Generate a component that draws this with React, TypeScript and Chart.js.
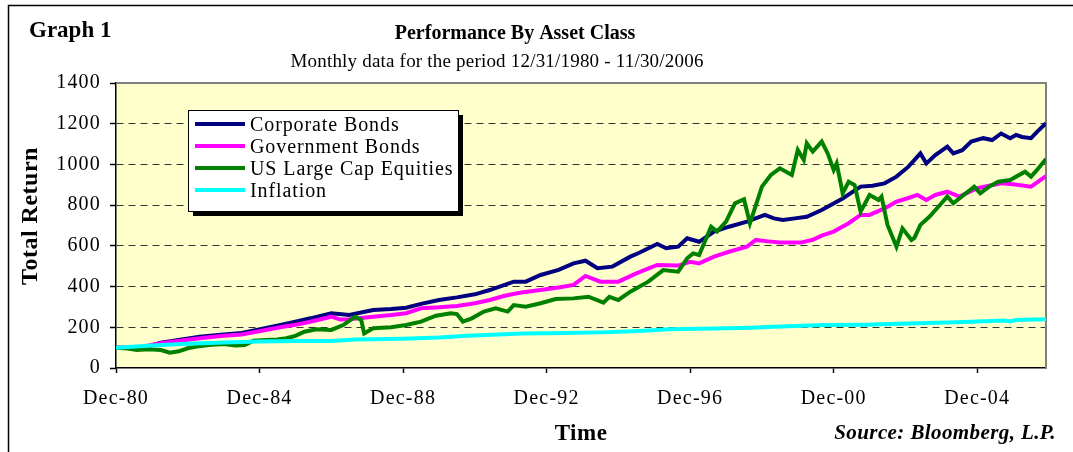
import React, { useEffect, useRef } from "react";
import { Chart, registerables } from "chart.js";

Chart.register(...registerables);

// x = months after Dec-1980, y = total return (Dec-80 = 100)
const tickLabels = ["Dec-80", "Dec-84", "Dec-88", "Dec-92", "Dec-96", "Dec-00", "Dec-04"];
const seriesNames = ["Corporate Bonds", "Government Bonds", "US Large Cap Equities", "Inflation"];
const seriesColors = ["#000080", "#FF00FF", "#008000", "#00FFFF"];

const corporateBonds: [number, number][] = [
  [0, 100], [6, 97], [10, 104], [15, 124], [22, 140], [28, 154], [36, 165], [42, 172], [47, 187],
  [55, 212], [60, 228], [65, 244], [72, 269], [78, 260], [86, 285], [92, 290], [97, 296], [102, 315],
  [108, 334], [114, 347], [120, 362], [125, 383], [133, 424], [137, 424], [142, 457], [148, 482],
  [153, 514], [157, 527], [161, 490], [166, 498], [172, 547], [175, 566], [181, 609], [184, 588],
  [188, 596], [191, 637], [195, 620], [200, 670], [205, 694], [211, 719], [217, 752], [220, 735],
  [223, 727], [227, 735], [231, 743], [236, 776], [243, 833], [249, 891], [253, 895], [257, 907],
  [261, 940], [265, 989], [269, 1054], [271, 1005], [274, 1046], [278, 1087], [280, 1054], [283, 1070],
  [286, 1112], [290, 1129], [293, 1120], [296, 1152], [299, 1129], [301, 1145], [303, 1135], [306, 1129],
  [308, 1160], [311, 1202],
];

const governmentBonds: [number, number][] = [
  [0, 100], [8, 102], [15, 122], [22, 135], [28, 146], [36, 158], [42, 165], [47, 178], [55, 200],
  [60, 212], [65, 227], [72, 252], [75, 238], [78, 240], [86, 252], [92, 260], [97, 269], [102, 293],
  [108, 298], [114, 305], [120, 318], [125, 334], [130, 355], [135, 370], [142, 383], [148, 395],
  [153, 408], [157, 452], [162, 424], [168, 424], [174, 465], [181, 506], [188, 503], [192, 522],
  [195, 514], [200, 547], [205, 571], [211, 596], [214, 629], [218, 622], [222, 616], [229, 616],
  [233, 630], [236, 650], [240, 670], [245, 711], [249, 752], [252, 752], [257, 784], [261, 817],
  [265, 835], [268, 850], [271, 825], [274, 850], [278, 866], [282, 842], [288, 883], [292, 895],
  [296, 907], [300, 903], [306, 891], [311, 943],
];

const usLargeCapEquities: [number, number][] = [
  [0, 100], [4, 96], [7, 88], [11, 92], [15, 88], [18, 75], [21, 82], [24, 97], [27, 105], [31, 113],
  [36, 118], [40, 110], [43, 113], [46, 134], [50, 138], [54, 140], [57, 146], [60, 158], [63, 178],
  [67, 190], [72, 187], [76, 211], [80, 252], [82, 236], [83, 170], [86, 195], [92, 200], [97, 211],
  [102, 228], [107, 257], [112, 269], [114, 265], [116, 228], [119, 244], [123, 277], [127, 293],
  [131, 277], [133, 309], [137, 301], [142, 318], [147, 339], [153, 342], [158, 350], [163, 321],
  [165, 350], [168, 334], [172, 375], [178, 424], [183, 481], [188, 473], [191, 539], [193, 563],
  [195, 555], [199, 694], [201, 670], [204, 719], [207, 809], [210, 829], [212, 711], [216, 891],
  [219, 948], [222, 981], [226, 948], [228, 1071], [230, 1022], [231, 1104], [233, 1063], [236, 1112],
  [238, 1054], [240, 973], [241, 1005], [243, 858], [245, 915], [247, 899], [249, 768], [252, 850],
  [255, 825], [256, 842], [258, 703], [261, 596], [263, 686], [266, 629], [267, 639], [269, 703],
  [272, 743], [275, 792], [278, 842], [280, 809], [282, 833], [287, 891], [289, 858], [292, 891],
  [295, 915], [299, 923], [304, 964], [306, 940], [308, 973], [311, 1027],
];

const inflation: [number, number][] = [
  [0, 100], [12, 110], [24, 119], [36, 125], [48, 130], [60, 133], [72, 133], [80, 140], [96, 144],
  [108, 150], [116, 157], [128, 164], [136, 170], [150, 172], [162, 175], [175, 182], [185, 190],
  [200, 194], [212, 198], [220, 203], [237, 211], [250, 213], [265, 219], [275, 222], [286, 227],
  [297, 233], [299, 229], [301, 236], [311, 239],
];

const allSeries = [corporateBonds, governmentBonds, usLargeCapEquities, inflation];

const SERIF = "'Liberation Serif', 'Times New Roman', serif";

export default function App() {
  const ref = useRef<HTMLCanvasElement>(null);

  useEffect(() => {
    const canvas = ref.current!;

    const decor = {
      id: "decor",
      beforeDraw(chart: any) {
        const { ctx, chartArea: a } = chart;
        ctx.save();
        ctx.fillStyle = "#ffffff";
        ctx.fillRect(0, 0, chart.width, chart.height);
        ctx.fillStyle = "#FFFFCC";
        ctx.fillRect(a.left, a.top, a.right - a.left, a.bottom - a.top);
        ctx.strokeStyle = "#000";
        ctx.lineWidth = 1.5;
        ctx.beginPath();
        ctx.moveTo(8.5, 452);
        ctx.lineTo(8.5, 5.5);
        ctx.lineTo(1073, 5.5);
        ctx.stroke();
        ctx.restore();
        (ctx as any).letterSpacing = "1.2px";
      },
      beforeDatasetsDraw(chart: any) {
        const { ctx, chartArea: a } = chart;
        ctx.save();
        ctx.strokeStyle = "#808080";
        ctx.lineWidth = 2;
        ctx.beginPath();
        ctx.moveTo(a.left, a.top);
        ctx.lineTo(a.right, a.top);
        ctx.lineTo(a.right, a.bottom);
        ctx.stroke();
        ctx.restore();
      },
      afterDraw(chart: any) {
        const { ctx, chartArea: a } = chart;
        ctx.save();
        ctx.fillStyle = "#000";
        (ctx as any).letterSpacing = "0px";
        ctx.textBaseline = "alphabetic";
        ctx.textAlign = "left";
        ctx.font = `bold 23px ${SERIF}`;
        ctx.fillText("Graph 1", 29, 37);
        ctx.textAlign = "center";
        ctx.font = `bold 20px ${SERIF}`;
        ctx.fillText("Performance By Asset Class", 515, 39);
        ctx.font = `19px ${SERIF}`;
        (ctx as any).letterSpacing = "0.2px";
        ctx.fillText("Monthly data for the period 12/31/1980 - 11/30/2006", 497, 67);
        (ctx as any).letterSpacing = "0.5px";
        ctx.font = `bold 23px ${SERIF}`;
        ctx.fillText("Time", (a.left + a.right) / 2, 440);
        ctx.save();
        ctx.translate(37, 216);
        ctx.rotate(-Math.PI / 2);
        ctx.font = `bold 24px ${SERIF}`;
        ctx.fillText("Total Return", 0, 0);
        ctx.restore();
        ctx.textAlign = "right";
        (ctx as any).letterSpacing = "0.4px";
        ctx.font = `italic bold 21px ${SERIF}`;
        ctx.fillText("Source: Bloomberg, L.P.", 1056, 439);

        // legend
        const lx = 188, ly = 110, lw = 270, lh = 101;
        ctx.fillStyle = "#000";
        ctx.fillRect(lx + 5, ly + 5, lw, lh);
        ctx.fillStyle = "#fff";
        ctx.fillRect(lx, ly, lw, lh);
        ctx.strokeStyle = "#000";
        ctx.lineWidth = 1;
        ctx.strokeRect(lx + 0.5, ly + 0.5, lw, lh);
        ctx.textAlign = "left";
        ctx.font = `20px ${SERIF}`;
        (ctx as any).letterSpacing = "0.9px";
        chart.data.datasets.forEach((ds: any, i: number) => {
          const cy = 124 + i * 22;
          ctx.strokeStyle = ds.borderColor;
          ctx.lineWidth = 4;
          ctx.beginPath();
          ctx.moveTo(195, cy);
          ctx.lineTo(245, cy);
          ctx.stroke();
          ctx.fillStyle = "#000";
          ctx.fillText(ds.label, 250, cy + 7);
        });
        ctx.restore();
      },
    };

    const chart = new Chart(canvas, {
      type: "line",
      data: {
        datasets: allSeries.map((s, i) => ({
          label: seriesNames[i],
          data: s.map(([x, y]) => ({ x, y })),
          borderColor: seriesColors[i],
          backgroundColor: seriesColors[i],
          borderWidth: 4,
          pointRadius: 0,
          tension: 0,
          fill: false,
          order: 3 - i,
        })),
      },
      options: {
        responsive: false,
        animation: false,
        devicePixelRatio: 1,
        layout: { padding: { left: 0, top: 83, right: 27, bottom: 0 } },
        plugins: {
          legend: { display: false },
          title: { display: false },
          tooltip: { enabled: false },
        },
        scales: {
          x: {
            type: "linear",
            min: 0,
            max: 311,
            afterBuildTicks: (s: any) => {
              s.ticks = s.ticks.filter((t: any) => t.value % 48 === 0);
            },
            afterFit: (s: any) => {
              s.height = 84;
            },
            ticks: {
              stepSize: 48,
              autoSkip: false,
              maxRotation: 0,
              padding: 14,
              color: "#000",
              font: { family: SERIF, size: 20 },
              callback: (v: any) => tickLabels[Math.round(Number(v) / 48)] ?? "",
            },
            grid: {
              drawOnChartArea: false,
              drawTicks: true,
              tickLength: 5,
              tickColor: "#000",
              tickWidth: 1.5,
            },
            border: { display: true, color: "#000", width: 1.5 },
          },
          y: {
            min: 0,
            max: 1400,
            afterFit: (s: any) => {
              s.width = 116;
            },
            ticks: {
              stepSize: 200,
              padding: 9,
              color: "#000",
              font: { family: SERIF, size: 20 },
              callback: (v: any) => String(v),
            },
            grid: {
              color: (c: any) =>
                c.tick && (c.tick.value === 0 || c.tick.value === 1400) ? "rgba(0,0,0,0)" : "#333333",
              lineWidth: 1,
              drawTicks: true,
              tickLength: 6,
              tickColor: "#000",
              tickWidth: 1.5,
              tickBorderDash: [],
            } as any,
            border: { display: true, color: "#000", width: 1.5, dash: [7, 5] },
          },
        },
      } as any,
      plugins: [decor],
    });

    return () => chart.destroy();
  }, []);

  return (
    <div style={{ position: "fixed", left: 0, top: 0, width: 1073, height: 452, background: "#fff" }}>
      <canvas ref={ref} width={1073} height={452} style={{ display: "block" }} />
    </div>
  );
}
